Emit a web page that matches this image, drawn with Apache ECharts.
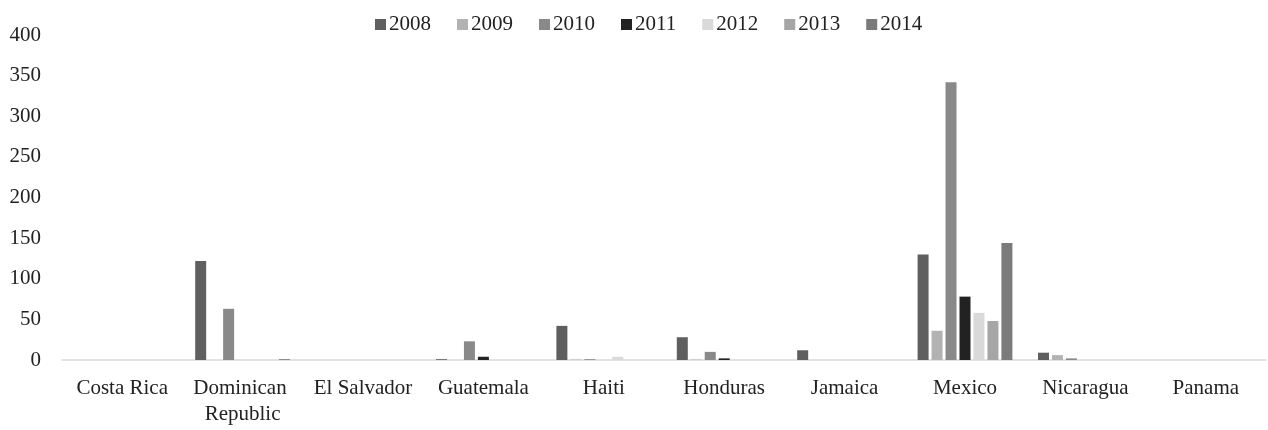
<!DOCTYPE html>
<html lang="en">
<head>
    <meta charset="UTF-8" />
    <title>Bars by country</title>
    <script src="https://cdn.jsdelivr.net/npm/echarts@6/dist/echarts.min.js"></script>
    <style>
        html, body { margin: 0; padding: 0; background: #fff; }
        #chart { width: 1268px; height: 430px; }
    </style>
</head>
<body>
    <div id="chart"></div>
    <script type="text/javascript">
        const countries = ['Costa Rica', 'Dominican Republic', 'El Salvador', 'Guatemala', 'Haiti',
            'Honduras', 'Jamaica', 'Mexico', 'Nicaragua', 'Panama'];
        const years = ['2008', '2009', '2010', '2011', '2012', '2013', '2014'];

        // one array per year, same order as countries
        const v2008 = [0, 122, 0, 1, 42, 28, 12, 130, 9, 0];
        const v2009 = [0, 0, 0, 0, 0.5, 0.5, 0, 36, 6, 0];
        const v2010 = [0, 63, 0, 23, 1, 10, 0, 342, 2, 0];
        const v2011 = [0, 0, 0, 4, 0, 2, 0, 78, 0, 0];
        const v2012 = [0, 0, 0, 0, 4, 0, 0, 58, 0, 0];
        const v2013 = [0, 0, 0, 0, 0, 0, 0, 48, 0, 0];
        const v2014 = [0, 1, 0, 0, 0, 0, 0, 144, 0, 0];
        const yTicks = [0, 50, 100, 150, 200, 250, 300, 350, 400];

        const values = [v2008, v2009, v2010, v2011, v2012, v2013, v2014];
        const colors = ['#5f5f5f', '#b2b2b2', '#898989', '#222222', '#d9d9d9', '#a6a6a6', '#7b7b7b'];
        const font = 'Liberation Serif';

        let chart = echarts.init(document.getElementById('chart'), null, { renderer: 'canvas' });

        let series = years.map(function (y, i) {
            return {
                name: y,
                type: 'bar',
                data: values[i],
                barWidth: 11,
                barGap: '27%',
                itemStyle: { color: colors[i] },
                animation: false
            };
        });

        chart.setOption({
            animation: false,
            color: colors,
            textStyle: { fontFamily: font },
            legend: {
                data: years,
                left: 370,
                top: 9,
                itemWidth: 11,
                itemHeight: 11,
                itemGap: 26,
                icon: 'rect',
                textStyle: { fontFamily: font, fontSize: 21, color: '#222', padding: [0, 0, 0, -2] }
            },
            grid: { left: 62, right: 2, top: 35, bottom: 70, containLabel: false },
            xAxis: {
                type: 'category',
                data: countries,
                axisLine: { lineStyle: { color: '#d9d9d9', width: 1.5 } },
                axisTick: { show: false },
                axisLabel: {
                    interval: 0,
                    margin: 15,
                    fontFamily: font,
                    fontSize: 21,
                    color: '#222',
                    lineHeight: 26,
                    width: 115,
                    overflow: 'break'
                }
            },
            yAxis: {
                type: 'value',
                min: yTicks[0],
                max: yTicks[yTicks.length - 1],
                interval: 50,
                axisLine: { show: false },
                axisTick: { show: false },
                splitLine: { show: false },
                axisLabel: { margin: 21, fontFamily: font, fontSize: 21, color: '#222' }
            },
            series: series
        });
    </script>
</body>
</html>
